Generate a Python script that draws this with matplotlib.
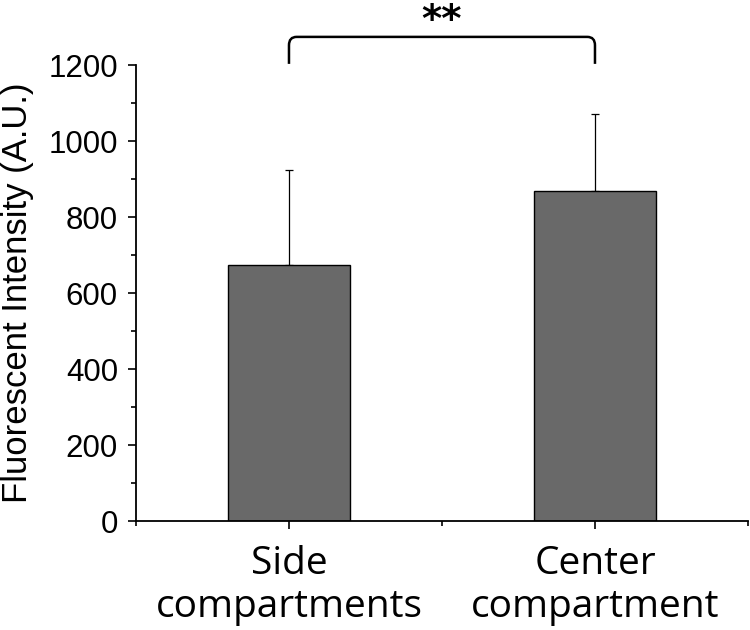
import matplotlib
matplotlib.use('Agg')
import matplotlib.pyplot as plt
from matplotlib.path import Path
from matplotlib.patches import PathPatch
from matplotlib.ticker import MultipleLocator, FixedLocator

# data
categories = ['Side\ncompartments', 'Center\ncompartment']
means = [673, 869]
errors = [251, 202]
significance = '**'

fig = plt.figure(figsize=(7.5, 6.3), dpi=100)
ax = fig.add_axes([0.1813, 0.173, 0.816, 0.7238])

x = [1, 2]
ax.bar(x, means, width=0.4, color='#696969', edgecolor='black', linewidth=1.0, zorder=2)
ax.errorbar(x, means, yerr=[[0, 0], errors], fmt='none', ecolor='black',
            elinewidth=0.9, capsize=3.2, capthick=0.9, zorder=1)

ax.set_xlim(0.5, 2.5)
ax.set_ylim(0, 1200)

ax.spines['top'].set_visible(False)
ax.spines['right'].set_visible(False)
ax.spines['left'].set_linewidth(1.3)
ax.spines['bottom'].set_linewidth(1.3)

ax.set_xticks(x)
ax.set_xticklabels(categories, fontsize=28, family='Open Sans', linespacing=1.2)
ax.xaxis.set_minor_locator(FixedLocator([0.5, 1.5, 2.5]))
ax.yaxis.set_major_locator(MultipleLocator(200))
ax.yaxis.set_minor_locator(MultipleLocator(100))
ax.tick_params(axis='both', which='major', length=6, width=1.2, direction='out')
ax.tick_params(axis='both', which='minor', length=3.5, width=1.2, direction='out')
ax.tick_params(axis='y', which='major', labelsize=22.5, pad=7)
ax.tick_params(axis='x', which='major', pad=11)
for lab in ax.get_yticklabels():
    lab.set_family('Liberation Sans')

ax.set_ylabel('Fluorescent Intensity (A.U.)', fontsize=25, family='Liberation Sans')
ax.yaxis.set_label_coords(-0.166, 0.5)

# significance bracket
y0, y1, r = 1203, 1274, 0.025
verts = [(1.0, y0), (1.0, y1 - 22), (1.0, y1), (1.0 + r, y1),
         (2.0 - r, y1), (2.0, y1), (2.0, y1 - 22), (2.0, y0)]
codes = [Path.MOVETO, Path.LINETO, Path.CURVE3, Path.CURVE3,
         Path.LINETO, Path.CURVE3, Path.CURVE3, Path.LINETO]
ax.add_patch(PathPatch(Path(verts, codes), facecolor='none', edgecolor='black',
                       linewidth=1.8, clip_on=False))
ax.text(1.5, 1287, significance, ha='center', va='baseline', fontsize=28,
        fontweight='bold', family='DejaVu Sans', clip_on=False)

fig.savefig('out.png', dpi=100)
